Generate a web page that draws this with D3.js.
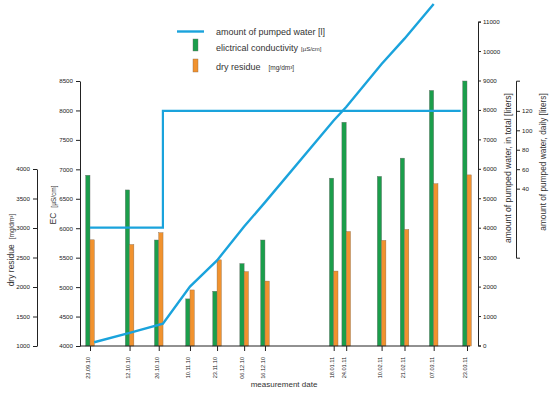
<!DOCTYPE html>
<html>
<head>
<meta charset="utf-8">
<script src="https://cdn.jsdelivr.net/npm/d3@7"></script>
<style>
body{margin:0;background:#fff}
svg{display:block;font-family:"Liberation Sans",Arial,sans-serif}
</style>
</head>
<body>
<div class="container"></div>
<script>
// measurement dates and values
var dates = ["2010-09-23","2010-10-12","2010-10-26","2010-11-10","2010-11-23","2010-12-06",
             "2010-12-16","2011-01-18","2011-01-24","2011-02-10","2011-02-21","2011-03-07","2011-03-23"];
var ecValues = [6900, 6650, 5800, 4800, 4930, 5400, 5800, 6850, 7800, 6880, 7190, 8340, 8500];
var dryValues = [2800, 2720, 2920, 1950, 2460, 2260, 2100, 2270, 2940, 2790, 2975, 3750, 3900];

// pumped water, total (liters)
var totalDates = ["2010-09-25","2010-10-12","2010-10-28","2010-11-10","2010-11-23","2010-12-06",
                  "2010-12-16","2011-01-18","2011-01-24","2011-02-10","2011-02-21","2011-03-07"];
var totalValues = [110, 430, 740, 2000, 2890, 4040, 4860, 7640, 8100, 9560, 10420, 11600];

// pumped water, daily (liters)
var dailyDates = ["2010-09-23","2010-10-28","2011-03-20"];
var dailyValues = [0, 120, 120];

var ecTicks = [4000,4500,5000,5500,6000,6500,7000,7500,8000,8500];
var dryTicks = [1000,1500,2000,2500,3000,3500,4000];
var totalTicks = [0,1000,2000,3000,4000,5000,6000,7000,8000,9000,10000,11000];
var dailyTicks = [40,60,80,100,120];

var blue = "#1aa3dc", green = "#1b9e4b", orange = "#f1922e";

var loadChart = function(){
    var width = 550, height = 396;
    var parse = d3.timeParse("%Y-%m-%d");
    var fmt = d3.timeFormat("%d.%m.%y");
    var num = d3.format("d");

    var svg = d3.select('.container')
                .append('svg')
                .attr('width', width)
                .attr('height', height);

    var x = d3.scaleTime().domain([parse(dates[0]), parse(dates[dates.length-1])]).range([90, 467]);
    var yEC = d3.scaleLinear().domain([4000, 8500]).range([346, 81]);
    var yDry = d3.scaleLinear().domain([1000, 4000]).range([346, 169]);
    var yTotal = d3.scaleLinear().domain([0, 11000]).range([345.5, 21.6]);
    var yDaily = d3.scaleLinear().domain([-31, 151]).range([257.7, 80.7]);

    var barW = 4.3;

    // bars: EC (green) left of tick, dry residue (orange) right of tick
    svg.selectAll('rect.ec')
        .data(dates)
        .enter()
        .append('rect')
        .attr('class', 'ec')
        .attr('x', function(d){ return x(parse(d)) - barW; })
        .attr('y', function(d, i){ return yEC(ecValues[i]); })
        .attr('width', barW)
        .attr('height', function(d, i){ return yEC(4000) - yEC(ecValues[i]); })
        .attr('fill', green)
        .attr('stroke', '#6a6a6a')
        .attr('stroke-width', 0.4);

    svg.selectAll('rect.dry')
        .data(dates)
        .enter()
        .append('rect')
        .attr('class', 'dry')
        .attr('x', function(d){ return x(parse(d)); })
        .attr('y', function(d, i){ return yDry(dryValues[i]); })
        .attr('width', barW)
        .attr('height', function(d, i){ return yDry(1000) - yDry(dryValues[i]); })
        .attr('fill', orange)
        .attr('stroke', '#8a6a4a')
        .attr('stroke-width', 0.4);

    // daily pumped water step line
    var dailyLine = d3.line()
        .curve(d3.curveStepAfter)
        .x(function(d){ return x(parse(d)); })
        .y(function(d, i){ return yDaily(dailyValues[i]); });
    svg.append('path')
        .attr('d', dailyLine(dailyDates))
        .attr('fill', 'none')
        .attr('stroke', blue)
        .attr('stroke-width', 2.2);

    // total pumped water line
    var totalLine = d3.line()
        .x(function(d){ return x(parse(d)); })
        .y(function(d, i){ return yTotal(totalValues[i]); });
    svg.append('path')
        .attr('d', totalLine(totalDates))
        .attr('fill', 'none')
        .attr('stroke', blue)
        .attr('stroke-width', 2.4);

    // axes
    function styleAxis(g, size){
        g.selectAll('path, line').attr('stroke', '#222').attr('stroke-width', 1);
        g.selectAll('text').attr('fill', '#222').style('font-size', size + 'px');
    }

    var gEC = svg.append('g').attr('transform', 'translate(80,0)')
        .call(d3.axisLeft(yEC).tickValues(ecTicks).tickFormat(num).tickSize(4).tickPadding(3).tickSizeOuter(0));
    styleAxis(gEC, 6.2);

    var gDry = svg.append('g').attr('transform', 'translate(37,0)')
        .call(d3.axisLeft(yDry).tickValues(dryTicks).tickFormat(num).tickSize(4).tickPadding(3).tickSizeOuter(0));
    styleAxis(gDry, 6.2);

    var gTotal = svg.append('g').attr('transform', 'translate(478,0)')
        .call(d3.axisRight(yTotal).tickValues(totalTicks).tickFormat(num).tickSize(3).tickPadding(2).tickSizeOuter(3));
    styleAxis(gTotal, 6.2);

    var gDaily = svg.append('g').attr('transform', 'translate(516,0)')
        .call(d3.axisRight(yDaily).tickValues(dailyTicks).tickFormat(num).tickSize(4).tickPadding(2).tickSizeOuter(4));
    styleAxis(gDaily, 6.2);

    // x axis
    var gX = svg.append('g').attr('transform', 'translate(0,346)')
        .call(d3.axisBottom(x).tickValues(dates.map(parse)).tickFormat(fmt).tickSize(5).tickSizeOuter(0));
    gX.select('.domain').remove();
    gX.append('line')
        .attr('x1', 80)
        .attr('x2', x.range()[1] + 3)
        .attr('stroke', '#222');
    styleAxis(gX, 5.6);
    gX.selectAll('.tick text')
        .attr('transform', 'rotate(-90)')
        .attr('x', -11)
        .attr('y', -2.2)
        .attr('dy', '0.35em')
        .style('text-anchor', 'end');

    // axis titles
    svg.append('text')
        .attr('x', 284).attr('y', 387)
        .attr('text-anchor', 'middle')
        .attr('fill', '#333')
        .style('font-size', '8px')
        .text('measurement date');

    var dryTitle = svg.append('text')
        .attr('transform', 'translate(14,250) rotate(-90)')
        .attr('text-anchor', 'middle')
        .attr('fill', '#333')
        .style('font-size', '8.5px');
    dryTitle.append('tspan').text('dry residue');
    dryTitle.append('tspan').attr('dx', 5).style('font-size', '6.5px').text('[mg/dm\u00b3]');

    var ecTitle = svg.append('text')
        .attr('transform', 'translate(56,205) rotate(-90)')
        .attr('text-anchor', 'middle')
        .attr('fill', '#333')
        .style('font-size', '8.5px');
    ecTitle.append('tspan').text('EC');
    ecTitle.append('tspan').attr('dx', 5).style('font-size', '6.5px').text('[\u00b5S/cm]');

    svg.append('text')
        .attr('transform', 'translate(511,168) rotate(-90)')
        .attr('text-anchor', 'middle')
        .attr('fill', '#333')
        .style('font-size', '8.6px')
        .text('amount of pumped water, in total [liters]');

    svg.append('text')
        .attr('transform', 'translate(546,162) rotate(-90)')
        .attr('text-anchor', 'middle')
        .attr('fill', '#333')
        .style('font-size', '8.3px')
        .text('amount of pumped water, daily [liters]');

    // legend
    var legend = svg.append('g');
    legend.append('line')
        .attr('x1', 177).attr('x2', 204).attr('y1', 31.5).attr('y2', 31.5)
        .attr('stroke', blue).attr('stroke-width', 2.4);
    legend.append('rect')
        .attr('x', 193).attr('y', 39).attr('width', 5).attr('height', 12)
        .attr('fill', green).attr('stroke', '#6a6a6a').attr('stroke-width', 0.4);
    legend.append('rect')
        .attr('x', 193).attr('y', 59).attr('width', 5).attr('height', 13)
        .attr('fill', orange).attr('stroke', '#8a6a4a').attr('stroke-width', 0.4);

    legend.append('text').attr('x', 216).attr('y', 34.5)
        .attr('fill', '#333').style('font-size', '9px')
        .text('amount of pumped water [l]');
    var l2 = legend.append('text').attr('x', 216).attr('y', 50.5)
        .attr('fill', '#333').style('font-size', '9px');
    l2.append('tspan').text('elictrical conductivity');
    l2.append('tspan').attr('dx', 3).style('font-size', '6px').text('[\u00b5S/cm]');
    var l3 = legend.append('text').attr('x', 216).attr('y', 69.5)
        .attr('fill', '#333').style('font-size', '9px');
    l3.append('tspan').text('dry residue');
    l3.append('tspan').attr('dx', 8).style('font-size', '6.5px').text('[mg/dm\u00b3]');
};
window.onload = loadChart;
</script>
</body>
</html>
